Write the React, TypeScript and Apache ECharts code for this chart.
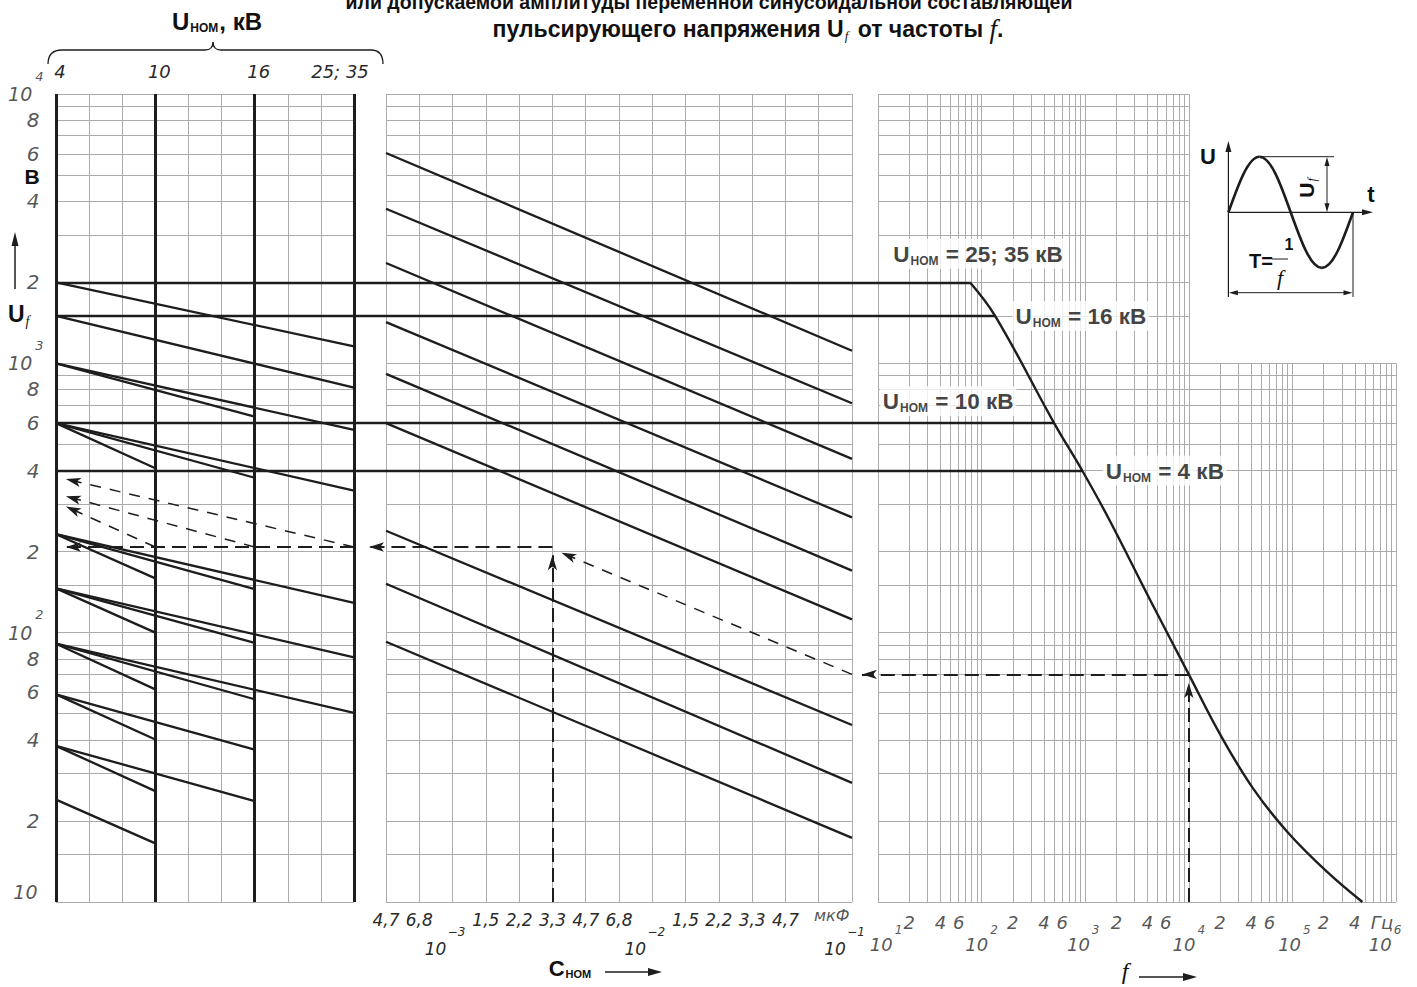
import React, { useEffect, useRef } from "react";
import * as echarts from "echarts";

// ---------------- values ----------------
// U_f grid values (V), log scale
const uGridValues = [10, 15, 20, 30, 40, 50, 60, 70, 80, 90, 100, 150, 200, 300, 400, 500, 600, 700, 800, 900, 1000, 1500, 2000, 3000, 4000, 5000, 6000, 7000, 8000, 9000, 10000];
// U_f tick labels on the left scale
const uTickValues = [10000, 8000, 6000, 4000, 2000, 1000, 800, 600, 400, 200, 100, 80, 60, 40, 20, 10];
// frequency grid (Hz)
const fGridValues = [10, 20, 30, 40, 50, 60, 70, 80, 90, 100, 200, 300, 400, 500, 600, 700, 800, 900, 1000, 2000, 3000, 4000, 5000, 6000, 7000, 8000, 9000, 10000, 20000, 30000, 40000, 50000, 60000, 70000, 80000, 90000, 100000, 200000, 300000, 400000, 500000, 600000, 700000, 800000, 900000, 1000000];
const fDigitTicks = [20, 40, 60, 200, 400, 600, 2000, 4000, 6000, 20000, 40000, 60000, 200000, 400000];
const fPowerTicks = [10, 100, 1000, 10000, 100000, 1000000];
const fPowerOffsets = [8, 0, -2, 0, 2, -11];
// U_nom scale of the left panel (positions in column units)
const uNomTickPos = [0, 3, 6, 9];
const uNomTickLabels = ["4", "10", "16", "25; 35"];
// C_nom scale of the middle panel (one E6 step per column)
const cTickLabels = ["4,7", "6,8", "10^−3", "1,5", "2,2", "3,3", "4,7", "6,8", "10^−2", "1,5", "2,2", "3,3", "4,7", "мкФ", "10^−1"];
// U_nom plateaus and where they meet the frequency curve
const plateauU = [2000, 1500, 600, 400];
const plateauFEnd = [77, 135, 501, 935];
const plateauNames = ["25; 35", "16", "10", "4"];
const plateauLabelF = [13, 197, 10.3, 1460];
const plateauLabelU = [2550, 1500, 725, 400];
// left panel: start value on the 4 kV line and end values on the 10, 16, 25;35 kV lines
const leftStartU = [2000, 1500, 1000, 600, 232, 146, 91, 59, 38, 24];
const leftEndAt10 = [null, null, null, 408, 159, 100, 61.6, 40.1, 25.8, 16.5];
const leftEndAt16 = [null, null, 634, 376, 145, 91.7, 56.6, 36.8, 23.7, null];
const leftEndAt35 = [1155, 813, 566, 337, 129, 81, 50.4, null, null, null];
// middle panel: values at C = 4,7·10^-4 and C = 10^-1 µF
const midStartU = [6040, 3750, 2357, 1422, 914, 600, 239, 152, 92.5];
const midEndU = [1113, 711, 442, 268, 170, 112, 45.4, 27.7, 17.3];
// right panel: U_f(f) curve
const curveF = [77, 135, 501, 935, 1679, 4246, 10000, 20140, 42000, 89500, 218000, 474000];
const curveU = [2000, 1500, 600, 400, 266, 132, 70, 41.8, 26.3, 18.2, 12.9, 10];
// worked example (dashed)
const exU = 208;
const exCIndex = 5;
const exF = 10000;
const exUf = 70;
const exLeftFrom = [9, 6, 3];
const exLeftToU = [372, 321, 294];
const exLeftTipX = 0.3;
const exMidTipX = -0.51;
const exMidVTipU = 194;
const exMidDiagTip = [5.27, 198];
const exRightVTipU = 65;
const exRightHTipF = 7;

// ---------------- layout ----------------
const GRID_TOP = 94;
const GRID_H = 808;
const L_LEFT = 56, L_W = 298;
const M_LEFT = 386, M_W = 466;
const R_LEFT = 878, R_W = 518;
const U_MIN = 10, U_MAX = 10000;

const SANS = "'Liberation Sans', Arial, Helvetica, sans-serif";
const ITALF = "'DejaVu Sans', 'Liberation Sans', sans-serif";
const SERIF = "'Liberation Serif', 'DejaVu Serif', serif";
const INK = "#1d1d1d";
const GRIDC = "#ababab";
const TXT = "#2a2a2a";

const it = (size: number, extra: any = {}) => ({ fontFamily: ITALF, fontStyle: "italic", fontSize: size, color: TXT, ...extra });

const vSeg = (x: number, y1: number, y2: number) => ({ coords: [[x, y1], [x, y2]] });
const hSeg = (y: number, x1: number, x2: number) => ({ coords: [[x1, y], [x2, y]] });
const seg = (a: number[], b: number[]) => ({ coords: [a, b] });

function linesSeries(grid: number, data: any[], lineStyle: any, extra: any = {}) {
  return {
    type: "lines",
    coordinateSystem: "cartesian2d",
    xAxisIndex: grid,
    yAxisIndex: grid,
    polyline: false,
    silent: true,
    clip: false,
    symbol: ["none", "none"],
    lineStyle: { curveness: 0, opacity: 1, ...lineStyle },
    data,
    ...extra,
  };
}

function labelScatter(grid: number, data: any[], label: any, z = 8) {
  return {
    type: "scatter",
    xAxisIndex: grid,
    yAxisIndex: grid,
    symbolSize: 1,
    itemStyle: { color: "rgba(0,0,0,0)" },
    silent: true,
    clip: false,
    z,
    label: { show: true, ...label },
    data,
  };
}

function buildOption() {
  const leftCols = L_W / 9;
  const midCols = M_W / 14;
  const gapLeft = (M_LEFT - (L_LEFT + L_W)) / leftCols;
  const gapRight = (R_LEFT - (M_LEFT + M_W)) / midCols;

  // ----- grid lines -----
  const leftGrid = [
    ...Array.from({ length: 10 }, (_, i) => vSeg(i, U_MIN, U_MAX)),
    ...uGridValues.map((u) => hSeg(u, 0, 9)),
  ];
  const midGrid = [
    ...Array.from({ length: 15 }, (_, i) => vSeg(i, U_MIN, U_MAX)),
    ...uGridValues.map((u) => hSeg(u, 0, 14)),
  ];
  const rightGrid = [
    ...fGridValues.map((f) => vSeg(f, U_MIN, f <= 10000 ? U_MAX : 1000)),
    ...uGridValues.map((u) => hSeg(u, 10, u <= 1000 ? 1000000 : 10000)),
  ];

  // ----- data lines -----
  const uNomVerticals = uNomTickPos.map((x) => vSeg(x, U_MIN, U_MAX));
  const plateauLeft = plateauU.map((u) => hSeg(u, 0, 9 + gapLeft));
  const plateauMid = plateauU.map((u) => hSeg(u, 0, 14 + gapRight));
  const plateauRight = plateauU.map((u, i) => hSeg(u, 10, plateauFEnd[i]));

  const leftLines: any[] = [];
  leftStartU.forEach((u0, i) => {
    if (leftEndAt10[i] != null) leftLines.push(seg([0, u0], [3, leftEndAt10[i] as number]));
    if (leftEndAt16[i] != null) leftLines.push(seg([0, u0], [6, leftEndAt16[i] as number]));
    if (leftEndAt35[i] != null) leftLines.push(seg([0, u0], [9, leftEndAt35[i] as number]));
  });
  const midLines = midStartU.map((u0, i) => seg([0, u0], [14, midEndU[i]]));

  // ----- dashed example -----
  const arrowStyle = { symbol: ["none", "arrow"], symbolSize: [[7, 15], [7, 15]] };
  const dashLeftH = [seg([9, exU], [exLeftTipX, exU])];
  const dashLeftDiag = exLeftFrom.map((x, i) => seg([x, exU], [exLeftTipX, exLeftToU[i]]));
  const dashMidH = [seg([exCIndex, exU], [exMidTipX, exU])];
  const dashMidV = [seg([exCIndex, U_MIN], [exCIndex, exMidVTipU])];
  const dashMidDiag = [seg([14, exUf], exMidDiagTip)];
  const dashRightV = [seg([exF, U_MIN], [exF, exRightVTipU])];
  const dashRightH = [seg([exF, exUf], [exRightHTipF, exUf])];

  // ----- labels -----
  const yRich = {
    d: it(20, { lineHeight: 22 }),
    b: it(19, { lineHeight: 22 }),
    s: it(13, { padding: [0, 0, 36, 3] }),
  };
  const yLabelData = uTickValues.map((u) => {
    const l = Math.log10(u);
    const isPow = Math.abs(l - Math.round(l)) < 1e-9;
    if (u === U_MIN) return { value: [0, u], label: { formatter: "{b|10}", distance: 18, offset: [0, -10] } };
    if (isPow) return { value: [0, u], label: { formatter: `{b|10}{s|${Math.round(l)}}`, distance: 12 } };
    const m = Math.round(u / Math.pow(10, Math.floor(l)));
    return { value: [0, u], label: { formatter: `{d|${m}}`, distance: 16 } };
  });

  const fRich = {
    d: it(18, { lineHeight: 22 }),
    b: it(18, { lineHeight: 22 }),
    s: it(12, { padding: [0, 0, 30, 2] }),
  };
  const fLabelData = [
    ...fDigitTicks.map((f) => ({ value: [f, U_MIN], label: { formatter: `{d|${Math.round(f / Math.pow(10, Math.floor(Math.log10(f))))}}`, distance: 9 } })),
    ...fPowerTicks.map((f, i) => ({ value: [f, U_MIN], label: { formatter: `{b|10}{s|${Math.round(Math.log10(f))}}`, distance: 21, offset: [fPowerOffsets[i], 0] } })),
    { value: [1000000, U_MIN], label: { formatter: "{d|Гц}", distance: 9, offset: [-14, 0] } },
  ];

  // unit label of the C scale (sits in place of the 6,8·10^-2 tick)
  const cUnitIndex = cTickLabels.indexOf("мкФ");
  const cUnitData = [{ value: [cUnitIndex, U_MIN], label: { formatter: `{u|${cTickLabels[cUnitIndex]}}`, distance: 3, offset: [13, 0] } }];

  const nomRich = {
    u: { fontFamily: SANS, fontWeight: "bold", fontSize: 22.5, color: "#111" },
    s: { fontFamily: SANS, fontWeight: "bold", fontSize: 12, color: "#111", padding: [13, 1, 0, 1] },
  };
  const nomLabelData = plateauNames.map((n, i) => ({
    value: [plateauLabelF[i], plateauLabelU[i]],
    label: { formatter: `{u|U}{s|НОМ}{u| = ${n} кВ}` },
  }));

  const series: any[] = [
    linesSeries(0, leftGrid, { color: GRIDC, width: 1 }, { z: 1 }),
    linesSeries(1, midGrid, { color: GRIDC, width: 1 }, { z: 1 }),
    linesSeries(2, rightGrid, { color: GRIDC, width: 1 }, { z: 1 }),
    linesSeries(0, uNomVerticals, { color: INK, width: 3 }, { z: 3 }),
    linesSeries(0, plateauLeft, { color: INK, width: 2.4 }, { z: 3 }),
    linesSeries(1, plateauMid, { color: INK, width: 2.4 }, { z: 3 }),
    linesSeries(2, plateauRight, { color: INK, width: 2.4 }, { z: 3 }),
    linesSeries(0, leftLines, { color: INK, width: 2.3 }, { z: 3 }),
    linesSeries(1, midLines, { color: INK, width: 2.3 }, { z: 3 }),
    {
      type: "line",
      xAxisIndex: 2,
      yAxisIndex: 2,
      data: curveF.map((f, i) => [f, curveU[i]]),
      showSymbol: false,
      symbol: "none",
      smooth: 0.4,
      silent: true,
      z: 3,
      lineStyle: { color: INK, width: 2.4 },
    },
    linesSeries(0, dashLeftH, { color: INK, width: 2, type: [14, 7] }, { z: 4, ...arrowStyle }),
    linesSeries(0, dashLeftDiag, { color: INK, width: 1.5, type: [11, 9] }, { z: 4, ...arrowStyle }),
    linesSeries(1, dashMidH, { color: INK, width: 2, type: [14, 7] }, { z: 4, ...arrowStyle }),
    linesSeries(1, dashMidV, { color: INK, width: 2, type: [14, 6] }, { z: 4, ...arrowStyle }),
    linesSeries(1, dashMidDiag, { color: INK, width: 1.5, type: [11, 9] }, { z: 4, ...arrowStyle }),
    linesSeries(2, dashRightV, { color: INK, width: 2, type: [14, 6] }, { z: 4, ...arrowStyle }),
    linesSeries(2, dashRightH, { color: INK, width: 2, type: [14, 7] }, { z: 4, ...arrowStyle }),
    labelScatter(0, yLabelData, { position: "left", rich: yRich }),
    labelScatter(2, fLabelData, { position: "bottom", rich: fRich }),
    labelScatter(1, cUnitData, { position: "bottom", rich: { u: it(16, { lineHeight: 20 }) } }),
    labelScatter(2, nomLabelData, { position: "right", distance: 0, rich: nomRich, backgroundColor: "#fff", padding: [3, 3, 2, 3] }, 6),
  ];

  // ----- decorative graphics (titles, brace, sketch) -----
  const g: any[] = [];
  const line = (x1: number, y1: number, x2: number, y2: number, w = 1.3) => ({ type: "line", silent: true, shape: { x1, y1, x2, y2 }, style: { stroke: INK, lineWidth: w } });
  const tri = (pts: number[][]) => ({ type: "polygon", silent: true, shape: { points: pts }, style: { fill: INK } });
  const bez = (p0: number[], p1: number[], p2: number[], p3: number[], w = 1.3) => ({
    type: "bezierCurve", silent: true,
    shape: { x1: p0[0], y1: p0[1], cpx1: p1[0], cpy1: p1[1], cpx2: p2[0], cpy2: p2[1], x2: p3[0], y2: p3[1] },
    style: { stroke: INK, lineWidth: w, fill: "none" },
  });
  const text = (x: number, y: number, style: any, extra: any = {}) => ({ type: "text", silent: true, x, y, style: { fill: "#111", align: "center", verticalAlign: "middle", ...style }, ...extra });

  // titles (the first line is cut by the top edge, as in the source scan)
  g.push(text(709, 2, { text: "или допускаемой амплитуды переменной синусоидальной составляющей", fontFamily: SANS, fontWeight: "bold", fontSize: 19.5 }));
  g.push(text(748, 29, {
    text: "{t|пульсирующего напряжения U}{f|f}{t| от частоты }{i|f}{t|.}",
    rich: {
      t: { fontFamily: SANS, fontWeight: "bold", fontSize: 23, fill: "#111" },
      f: { fontFamily: SERIF, fontStyle: "italic", fontSize: 13, fill: "#111", padding: [13, 3, 0, 1] },
      i: { fontFamily: SERIF, fontStyle: "italic", fontSize: 27, fill: "#111" },
    },
  }));
  // U_nom caption and brace
  g.push(text(217, 21, {
    text: "{u|U}{s|НОМ}{u|, кВ}",
    rich: {
      u: { fontFamily: SANS, fontWeight: "bold", fontSize: 24, fill: "#111" },
      s: { fontFamily: SANS, fontWeight: "bold", fontSize: 12, fill: "#111", padding: [13, 1, 0, 1] },
    },
  }));
  g.push(bez([48, 64], [48, 55], [52, 50], [62, 50]));
  g.push(line(62, 50, 205, 50));
  g.push(bez([205, 50], [210, 50], [213, 47], [213, 42]));
  g.push(bez([213, 42], [213, 47], [216, 50], [221, 50]));
  g.push(line(221, 50, 371, 50));
  g.push(bez([371, 50], [379, 50], [383, 55], [383, 64]));
  // left axis name
  g.push(text(32, 176, { text: "В", fontFamily: SANS, fontWeight: "bold", fontSize: 21 }));
  g.push(line(15, 289, 15, 243, 1.5));
  g.push(tri([[15, 232], [11.5, 246], [18.5, 246]]));
  g.push(text(8, 314, {
    text: "{u|U}{f|f}", align: "left",
    rich: {
      u: { fontFamily: SANS, fontWeight: "bold", fontSize: 23, fill: "#111" },
      f: { fontFamily: SERIF, fontStyle: "italic", fontSize: 14, fill: "#111", padding: [14, 0, 0, 1] },
    },
  }));
  // bottom axis names
  g.push(text(570, 968, {
    text: "{c|С}{s|НОМ}",
    rich: {
      c: { fontFamily: SANS, fontWeight: "bold", fontSize: 22, fill: "#111" },
      s: { fontFamily: SANS, fontWeight: "bold", fontSize: 11, fill: "#111", padding: [12, 0, 0, 1] },
    },
  }));
  g.push(line(605, 972, 650, 972, 1.5));
  g.push(tri([[662, 972], [648, 968], [648, 976]]));
  g.push(text(1125, 971, { text: "f", fontFamily: SERIF, fontStyle: "italic", fontSize: 24 }));
  g.push(line(1139, 977, 1185, 977, 1.5));
  g.push(tri([[1197, 977], [1183, 973], [1183, 981]]));

  // sine sketch
  const IX0 = 1228.4, IY0 = 212.3, IQ = 31.15, IA = 55.6;
  for (let k = 0; k < 4; k++) {
    const sx = IX0 + k * IQ;
    const sg = k < 2 ? -1 : 1;
    if (k % 2 === 0) {
      g.push(bez([sx, IY0], [sx + 0.3265 * IQ, IY0 + sg * 0.5128 * IA], [sx + 0.638 * IQ, IY0 + sg * IA], [sx + IQ, IY0 + sg * IA], 2.6));
    } else {
      g.push(bez([sx, IY0 + sg * IA], [sx + 0.362 * IQ, IY0 + sg * IA], [sx + 0.6735 * IQ, IY0 + sg * 0.5128 * IA], [sx + IQ, IY0], 2.6));
    }
  }
  g.push(line(IX0, 297, IX0, 150, 1.2));
  g.push(tri([[IX0, 141], [IX0 - 3, 152], [IX0 + 3, 152]]));
  g.push(line(IX0, IY0, 1363, IY0, 1.2));
  g.push(tri([[1373, IY0], [1362, IY0 - 3], [1362, IY0 + 3]]));
  g.push(line(1259.6, 156.7, 1334, 156.7, 1));
  g.push(line(1327, 163, 1327, 206, 1));
  g.push(tri([[1327, 157], [1324.5, 166], [1329.5, 166]]));
  g.push(tri([[1327, IY0], [1324.5, IY0 - 9], [1329.5, IY0 - 9]]));
  g.push(line(1353, IY0, 1353, 297, 1));
  g.push(line(1234, 292.7, 1347, 292.7, 1));
  g.push(tri([[IX0 + 0.5, 292.7], [IX0 + 9.5, 290.2], [IX0 + 9.5, 295.2]]));
  g.push(tri([[1352.5, 292.7], [1343.5, 290.2], [1343.5, 295.2]]));
  g.push(text(1208, 156, { text: "U", fontFamily: SANS, fontWeight: "bold", fontSize: 22 }));
  g.push(text(1371, 194, { text: "t", fontFamily: SANS, fontWeight: "bold", fontSize: 22 }));
  g.push(text(1306, 188, {
    text: "{u|U}{f|f}",
    rich: {
      u: { fontFamily: SANS, fontWeight: "bold", fontSize: 21, fill: "#111" },
      f: { fontFamily: SERIF, fontStyle: "italic", fontSize: 12, fill: "#111", padding: [12, 0, 0, 1] },
    },
  }, { rotation: Math.PI / 2 }));
  g.push(text(1261, 261, { text: "T=", fontFamily: SANS, fontWeight: "bold", fontSize: 20 }));
  g.push(line(1272, 259, 1288, 259, 1));
  g.push(text(1289, 244, { text: "1", fontFamily: SANS, fontWeight: "bold", fontSize: 16 }));
  g.push(text(1280, 277, { text: "f", fontFamily: SERIF, fontStyle: "italic", fontSize: 22 }));

  return {
    animation: false,
    backgroundColor: "#fff",
    grid: [
      { left: L_LEFT, top: GRID_TOP, width: L_W, height: GRID_H, containLabel: false, outerBoundsMode: "none" },
      { left: M_LEFT, top: GRID_TOP, width: M_W, height: GRID_H, containLabel: false, outerBoundsMode: "none" },
      { left: R_LEFT, top: GRID_TOP, width: R_W, height: GRID_H, containLabel: false, outerBoundsMode: "none" },
    ],
    xAxis: [
      {
        type: "value", gridIndex: 0, min: 0, max: 9, interval: 3, position: "top",
        axisLine: { show: false }, axisTick: { show: false }, splitLine: { show: false },
        axisLabel: {
          show: true, margin: 13, showMinLabel: true, showMaxLabel: true, hideOverlap: false,
          formatter: (v: number) => {
            const i = uNomTickPos.indexOf(v);
            if (i < 0) return "";
            return i === uNomTickPos.length - 1 ? `{w|${uNomTickLabels[i]}}` : `{n|${uNomTickLabels[i]}}`;
          },
          rich: { n: it(18, { lineHeight: 20, padding: [0, 0, 0, 8] }), w: it(18, { lineHeight: 20, padding: [0, 28, 0, 0] }) },
        },
      },
      {
        type: "value", gridIndex: 1, min: 0, max: 14, interval: 1,
        axisLine: { show: false }, axisTick: { show: false }, splitLine: { show: false },
        axisLabel: {
          show: true, margin: 8, showMinLabel: true, showMaxLabel: true, hideOverlap: false,
          formatter: (v: number) => {
            const t = cTickLabels[Math.round(v)];
            if (!t || t === "мкФ") return "";
            if (t.startsWith("10^")) return `{e|${t.slice(3)}}\n{p|10}`;
            return `{n|${t}}`;
          },
          rich: {
            n: it(17, { lineHeight: 20 }),
            e: it(12, { lineHeight: 28, verticalAlign: "bottom", padding: [0, 0, 0, 8] }),
            p: it(17, { lineHeight: 22, padding: [0, 34, 0, 0] }),
          },
        },
      },
      { type: "log", logBase: 10, gridIndex: 2, min: 10, max: 1000000, show: false },
    ],
    yAxis: [0, 1, 2].map((i) => ({ type: "log", logBase: 10, gridIndex: i, min: U_MIN, max: U_MAX, show: false })),
    series,
    graphic: g,
  };
}

export default function App() {
  const ref = useRef<HTMLDivElement>(null);
  useEffect(() => {
    const chart = echarts.init(ref.current as HTMLDivElement, null, { renderer: "svg" });
    chart.setOption(buildOption() as any);
    return () => chart.dispose();
  }, []);
  return (
    <div
      ref={ref}
      style={{ position: "fixed", left: 0, top: 0, width: 1417, height: 987, background: "#fff" }}
    />
  );
}
